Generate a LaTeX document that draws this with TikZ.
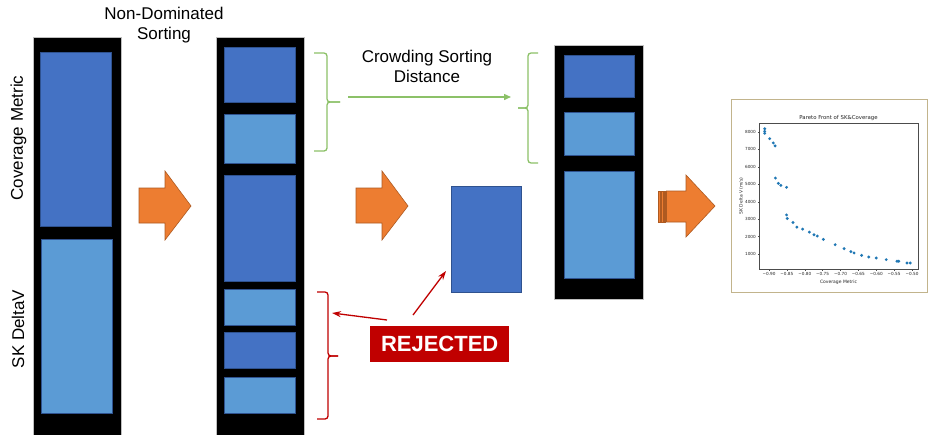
\documentclass[tikz,border=0pt]{standalone}
\usepackage{fontspec}
\setmainfont{Liberation Sans}
\newfontfamily\plotfont{DejaVu Sans}
\usetikzlibrary{arrows.meta}

\definecolor{cdark}{HTML}{4472C4}
\definecolor{clight}{HTML}{5B9BD5}
\definecolor{cedge}{HTML}{2F528F}
\definecolor{corange}{HTML}{ED7D31}
\definecolor{corangeedge}{HTML}{AE5A21}
\definecolor{cgreen}{HTML}{8CC168}
\definecolor{cred}{HTML}{C00000}
\definecolor{cframe}{HTML}{C2B48C}
\definecolor{cpoint}{HTML}{1F77B4}

\tikzset{
  column/.style={fill=black, draw=black!25, line width=0.6pt, inner sep=0pt, outer sep=0pt, anchor=north west},
  cell/.style={draw=cedge, line width=0.8pt, inner sep=0pt, outer sep=0pt, anchor=north west, minimum width=71pt},
  darkcell/.style={cell, fill=cdark},
  lightcell/.style={cell, fill=clight},
  heading/.style={font=\fontsize{17}{20}\selectfont, align=center, inner sep=0pt},
  blockarrow/.style={fill=corange, draw=corangeedge, line width=0.6pt, line join=miter},
  greenbrace/.style={draw=cgreen, line width=1.3pt, rounded corners=3pt},
  redbrace/.style={draw=cred, line width=1.3pt, rounded corners=3pt},
  greenarrow/.style={draw=cgreen, line width=1.4pt, -{Triangle[length=7pt,width=6pt]}},
  redarrow/.style={draw=cred, line width=1.3pt, -{Stealth[length=9pt,width=6pt]}},
  ticklabel/.style={inner sep=0pt, text=black!85, font=\plotfont\fontsize{4.2}{5}\selectfont},
  axislabel/.style={inner sep=0pt, text=black!85, font=\plotfont\fontsize{4.5}{5}\selectfont},
}

\begin{document}
\begin{tikzpicture}[x=1pt, y=-1pt]
\useasboundingbox (0,0) rectangle (929,434);
\fill[white] (0,0) rectangle (929,434);

% population before sorting
\node[column, minimum width=88pt, minimum height=400pt] (col1) at (33,37) {};
\node[darkcell, minimum height=174pt] (c1a) at (40,52) {};
\node[lightcell, minimum height=174pt] (c1b) at (41,239) {};
\node[heading, rotate=90] (lbl-cov) at (18.5,138) {Coverage Metric};
\node[heading, rotate=90] (lbl-sk) at (18,329) {SK DeltaV};

% population after non-dominated sorting
\node[heading] (nds) at (164,25) {Non-Dominated\\Sorting};
\node[column, minimum width=88pt, minimum height=400pt] (col2) at (216,37) {};
\node[darkcell, minimum height=55pt] (c2a) at (224,47) {};
\node[lightcell, minimum height=49pt] (c2b) at (224,114) {};
\node[darkcell, minimum height=106pt] (c2c) at (224,175) {};
\node[lightcell, minimum height=36pt] (c2d) at (224,289) {};
\node[darkcell, minimum height=36pt] (c2e) at (224,332) {};
\node[lightcell, minimum height=36pt] (c2f) at (224,377) {};

% selected population
\node[column, minimum width=89pt, minimum height=254pt] (col3) at (554,45) {};
\node[darkcell, minimum width=70pt, minimum height=42pt] (c3a) at (564,55) {};
\node[lightcell, minimum width=70pt, minimum height=43pt] (c3b) at (564,112) {};
\node[lightcell, minimum width=70pt, minimum height=107pt] (c3c) at (564,171) {};

% rejected member
\node[darkcell, minimum width=70pt, minimum height=106pt] (cut) at (451,186) {};

% block arrows
\draw[blockarrow] (139,188) -- (165,188) -- (165,171) -- (191,206) -- (165,240) -- (165,223) -- (139,223) -- cycle;
\draw[blockarrow] (356,188) -- (382,188) -- (382,171) -- (408,206) -- (382,240) -- (382,223) -- (356,223) -- cycle;
\draw[blockarrow, line width=0.4pt] (658,191) rectangle (660,222);
\draw[blockarrow, line width=0.4pt] (661,191) rectangle (663,222);
\draw[blockarrow, line width=0.4pt] (664,191) rectangle (665.5,222);
\draw[blockarrow] (666.5,191) -- (686,191) -- (686,175) -- (715,206) -- (686,237) -- (686,222) -- (666.5,222) -- cycle;

% crowding distance step
\node[heading] (csd) at (427,66) {Crowding Sorting\\Distance};
\draw[greenbrace] (314,53) -- (327,53) -- (327,102) -- (340,102);
\draw[greenbrace] (340,102) -- (327,102) -- (327,151) -- (314,151);
\draw[greenbrace] (538,53) -- (528,53) -- (528,108) -- (518,108);
\draw[greenbrace] (518,108) -- (528,108) -- (528,163) -- (538,163);
\coordinate (csd-from) at (348,97);
\coordinate (csd-to) at (511,97);
\draw[greenarrow] (csd-from) -- (csd-to);

% rejection
\draw[redbrace] (317,292) -- (328,292) -- (328,356) -- (338,356);
\draw[redbrace] (338,356) -- (328,356) -- (328,419) -- (317,419);
\node[fill=cred, text=white, font=\bfseries\fontsize{22}{24}\selectfont, minimum width=139pt, minimum height=36pt, inner sep=0pt, anchor=north west] (rej) at (370,326) {REJECTED};
\coordinate (rej-left) at (387,320);
\coordinate (rej-right) at (413,315);
\coordinate (rej-brace) at (332,313);
\coordinate (rej-cut) at (446,271);
\draw[redarrow] (rej-left) -- (rej-brace);
\draw[redarrow] (rej-right) -- (rej-cut);

% Pareto front plot
\draw[cframe, line width=1.5pt, fill=white] (731.5,99.5) rectangle (927.5,292.5);
\begin{scope}[shift={(1090.75pt,-271.44pt)}, x=357.5pt, y=17.43pt]
  \draw[black!70, line width=0.5pt] (-0.928,0.14) rectangle (-0.483,8.516);
  \foreach \t/\l in {-0.90/0.90, -0.85/0.85, -0.80/0.80, -0.75/0.75, -0.70/0.70, -0.65/0.65, -0.60/0.60, -0.55/0.55, -0.50/0.50} {
    \draw[black!70, line width=0.4pt] (\t,0.14) -- ++(0pt,-1.5pt);
    \node[ticklabel, anchor=north] at (\t,0.14) [yshift=-3pt] {−\l};
  }
  \foreach \k in {1,...,8} {
    \draw[black!70, line width=0.4pt] (-0.928,\k) -- ++(-1.5pt,0pt);
    \node[ticklabel, anchor=east] at (-0.928,\k) [xshift=-3pt] {\k000};
  }
  \foreach \px/\py in {-0.912/8.190, -0.912/8.038, -0.912/7.924, -0.898/7.620, -0.888/7.372, -0.883/7.201,
      -0.882/5.356, -0.874/5.052, -0.867/4.938, -0.851/4.824, -0.851/3.245, -0.849/3.036, -0.833/2.807,
      -0.822/2.541, -0.806/2.427, -0.787/2.256, -0.774/2.104, -0.765/2.028, -0.748/1.838, -0.715/1.534,
      -0.690/1.306, -0.671/1.135, -0.662/1.059, -0.641/0.925, -0.621/0.830, -0.600/0.773, -0.572/0.678,
      -0.542/0.583, -0.537/0.583, -0.514/0.488, -0.505/0.488}
    \fill[cpoint] (\px,\py) circle[radius=1.6pt];
  \node[inner sep=0pt, text=black!85, font=\plotfont\fontsize{5.4}{6}\selectfont, anchor=south] (ptitle) at (-0.7055,8.516) [yshift=2.5pt] {Pareto Front of SK\&Coverage};
  \node[axislabel, anchor=north] (pxlabel) at (-0.7055,0.14) [yshift=-11pt] {Coverage Metric};
  \node[axislabel, rotate=90] (pylabel) at (-0.978,4.33) {SK Delta V (m/s)};
\end{scope}
\end{tikzpicture}
\end{document}
